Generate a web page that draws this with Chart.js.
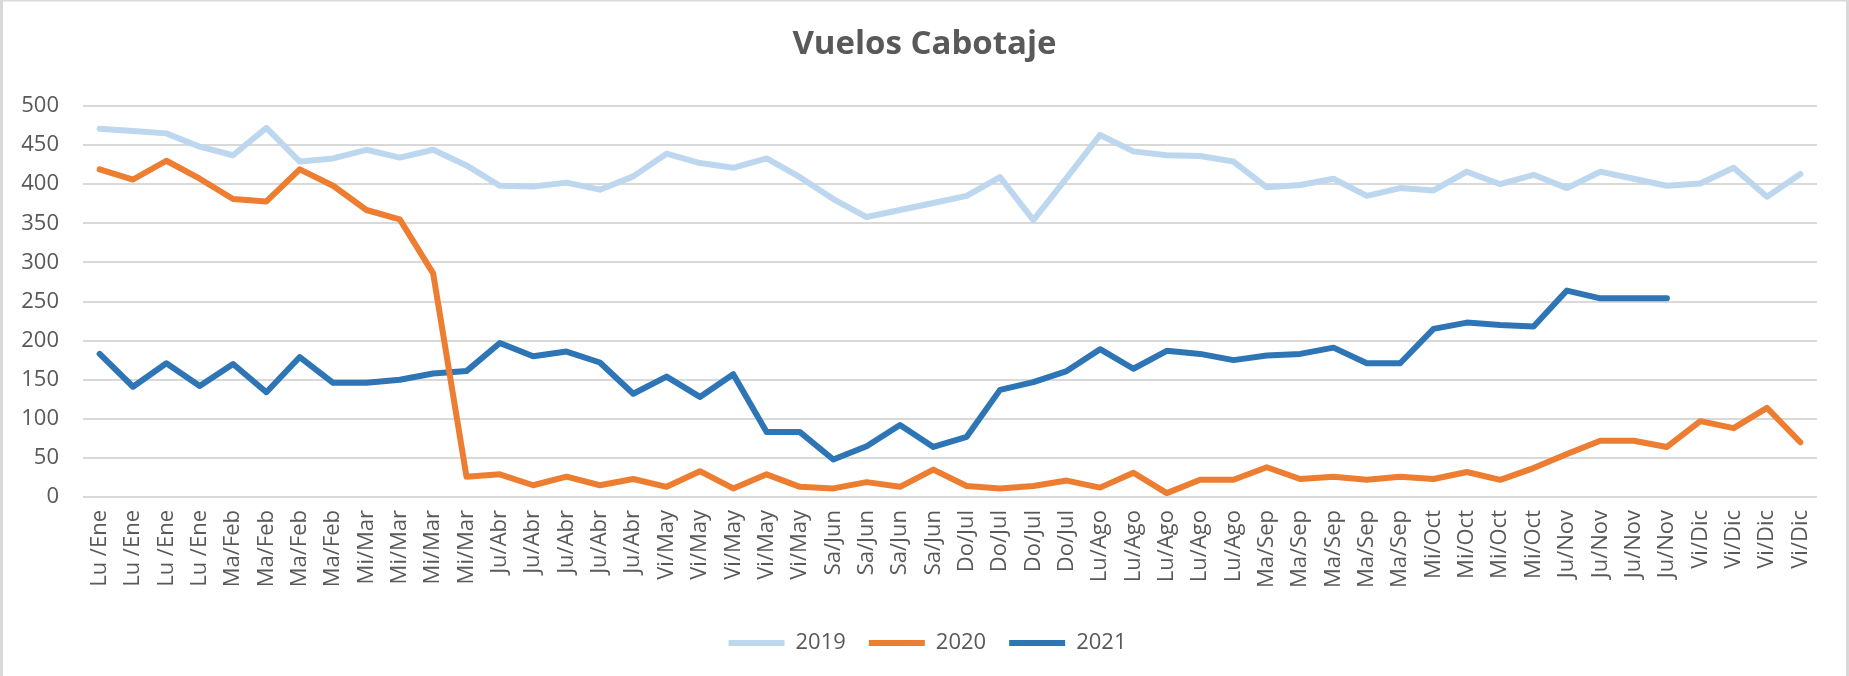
<!DOCTYPE html>
<html>
<head>
<meta charset="utf-8">
<script src="https://cdn.jsdelivr.net/npm/chart.js@4.4.1/dist/chart.umd.min.js"></script>
<style>
  html, body { margin: 0; padding: 0; background: #ffffff; }
  #wrap { width: 1849px; height: 676px; position: relative; }
</style>
</head>
<body>
<div id="wrap"><canvas id="c" width="1849" height="676"></canvas></div>
<script>
const chartTitle = 'Vuelos Cabotaje';
const categories = [
  'Lu /Ene','Lu /Ene','Lu /Ene','Lu /Ene',
  'Ma/Feb','Ma/Feb','Ma/Feb','Ma/Feb',
  'Mi/Mar','Mi/Mar','Mi/Mar','Mi/Mar',
  'Ju/Abr','Ju/Abr','Ju/Abr','Ju/Abr','Ju/Abr',
  'Vi/May','Vi/May','Vi/May','Vi/May','Vi/May',
  'Sa/Jun','Sa/Jun','Sa/Jun','Sa/Jun',
  'Do/Jul','Do/Jul','Do/Jul','Do/Jul',
  'Lu/Ago','Lu/Ago','Lu/Ago','Lu/Ago','Lu/Ago',
  'Ma/Sep','Ma/Sep','Ma/Sep','Ma/Sep','Ma/Sep',
  'Mi/Oct','Mi/Oct','Mi/Oct','Mi/Oct',
  'Ju/Nov','Ju/Nov','Ju/Nov','Ju/Nov',
  'Vi/Dic','Vi/Dic','Vi/Dic','Vi/Dic'
];
const seriesNames = ['2019', '2020', '2021'];
const values2019 = [
  471, 468, 465, 448, 437, 472, 429, 433, 444, 434, 444, 424,
  398, 397, 402, 393, 410, 439, 427, 421, 433, 409, 381, 358,
  367, 376, 385, 409, 354, 408, 463, 442, 437, 436, 429, 396,
  399, 407, 385, 395, 392, 416, 400, 412, 395, 416, 407, 398,
  401, 421, 384, 413
];
const values2020 = [
  419, 406, 430, 407, 381, 378, 419, 398, 367, 355, 286, 26,
  29, 15, 26, 15, 23, 13, 33, 11, 29, 13, 11, 19,
  13, 35, 14, 11, 14, 21, 12, 31, 5, 22, 22, 38,
  23, 26, 22, 26, 23, 32, 22, 37, 55, 72, 72, 64,
  97, 88, 114, 70
];
const values2021 = [
  183, 141, 171, 142, 170, 134, 179, 146, 146, 150, 158, 161,
  197, 180, 186, 172, 132, 154, 128, 157, 83, 83, 48, 65,
  92, 64, 77, 137, 147, 161, 189, 164, 187, 183, 175, 181,
  183, 191, 171, 171, 215, 223, 220, 218, 264, 254, 254, 254,
  null, null, null, null
];
const yTicks = { min: 0, max: 500, step: 50 };
const seriesColors = ['#BDD7EE', '#ED7D31', '#2E75B6'];

const textColor = '#595959';
const fontFamily = "'Open Sans', 'DejaVu Sans', sans-serif";

const framePlugin = {
  id: 'frame',
  afterLayout(chart) {
    const shift = 19;
    if (chart.legend) { chart.legend.left += shift; chart.legend.right += shift; }
    const t = chart.titleBlock;
    if (t) { t.left += 16; t.right += 16; }
  },
  afterDraw(chart) {
    const ctx = chart.ctx;
    ctx.save();
    ctx.fillStyle = '#d9d9d9';
    ctx.fillRect(0, 0, 3, chart.height);
    ctx.fillRect(0, 0, chart.width, 1.5);
    ctx.fillRect(chart.width - 3, 0, 3, chart.height);
    ctx.restore();
  }
};

const seriesData = [values2019, values2020, values2021];
new Chart(document.getElementById('c'), {
  type: 'line',
  data: {
    labels: categories,
    datasets: seriesNames.map((name, i) => ({
      label: name,
      data: seriesData[i],
      borderColor: seriesColors[i],
      backgroundColor: seriesColors[i],
      borderWidth: 6,
      pointRadius: 0,
      pointHoverRadius: 0,
      tension: 0,
      borderCapStyle: 'round',
      borderJoinStyle: 'round',
      spanGaps: false,
      fill: false
    }))
  },
  options: {
    responsive: false,
    animation: false,
    devicePixelRatio: 1,
    layout: { padding: { left: 0, right: 32, top: 0, bottom: 12 } },
    plugins: {
      title: {
        display: true,
        text: chartTitle,
        color: textColor,
        font: { family: fontFamily, size: 33, weight: 'bold' },
        padding: { top: 25, bottom: 41.4 }
      },
      legend: {
        display: true,
        position: 'bottom',
        labels: {
          color: textColor,
          font: { family: fontFamily, size: 22 },
          usePointStyle: true,
          pointStyle: 'line',
          pointStyleWidth: 56,
          padding: 23
        }
      },
      tooltip: { enabled: false }
    },
    scales: {
      x: {
        type: 'category',
        offset: true,
        grid: { display: false, drawTicks: false },
        border: { display: false },
        ticks: {
          autoSkip: false,
          maxRotation: 90,
          minRotation: 90,
          color: textColor,
          font: { family: fontFamily, size: 22 },
          padding: 13
        },
        afterFit(scale) { scale.height = 112; }
      },
      y: {
        min: yTicks.min,
        max: yTicks.max,
        grid: { color: '#d9d9d9', lineWidth: 2, drawTicks: false },
        border: { display: false },
        ticks: {
          stepSize: yTicks.step,
          color: textColor,
          font: { family: fontFamily, size: 22 },
          padding: 24
        },
        afterFit(scale) { scale.width = 83; }
      }
    }
  },
  plugins: [framePlugin]
});
</script>
</body>
</html>
